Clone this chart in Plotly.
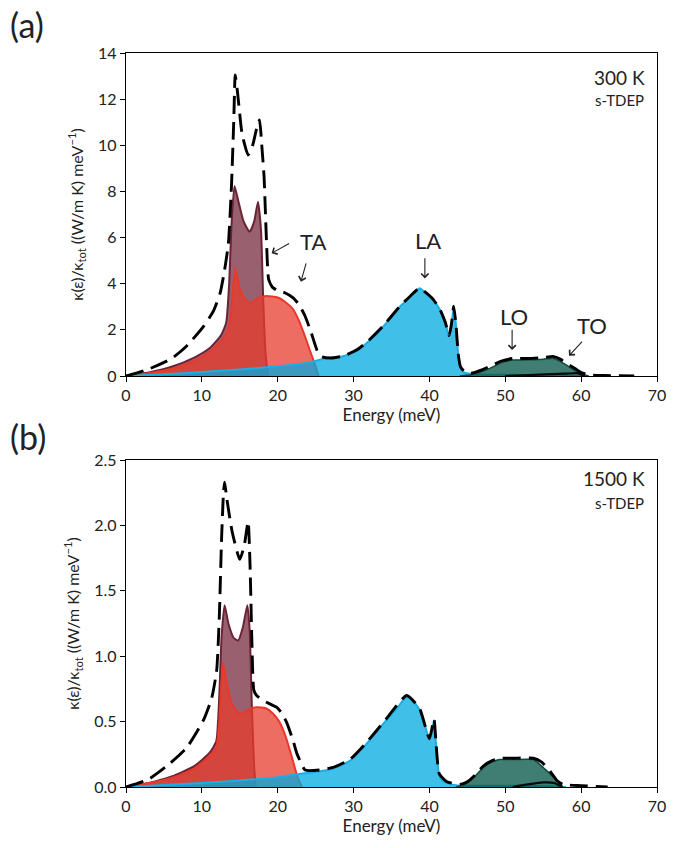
import plotly.graph_objects as go

# ---------------- Panel (a): 300 K ----------------
a_ta1_E = [0, 3, 6, 9, 11, 12.5, 13.2, 13.6, 13.9, 14.3, 14.8, 15.5, 16.3, 16.9, 17.4, 17.8, 18.1, 18.4, 18.7]
a_ta1_v = [0, 0.15, 0.4, 0.8, 1.2, 1.75, 2.3, 4.0, 6.5, 8.24, 7.6, 6.7, 6.25, 6.7, 7.55, 6.3, 3.2, 1.0, 0]

a_ta2_E = [0, 3, 6, 9, 11, 12.5, 13.3, 13.8, 14.1, 14.4, 14.9, 15.6, 16.4, 17.3, 18.5, 20.0, 21.2, 22.0, 22.8, 23.5, 24.2, 24.8, 25.4]
a_ta2_v = [0, 0.12, 0.3, 0.65, 1.05, 1.5, 1.9, 2.6, 3.8, 4.67, 3.9, 3.35, 3.15, 3.35, 3.47, 3.4, 3.15, 2.9, 2.4, 1.8, 1.15, 0.6, 0]

a_la_E = [0, 5, 10, 15, 20, 24, 26, 28.6, 30.5, 31.7, 33, 33.9, 35, 36.1, 37.5, 38.7, 39.5, 40.5, 41.4, 42.1, 42.6, 42.9, 43.2, 43.5, 43.8, 44.1, 44.6, 46, 50, 55, 58, 60]
a_la_v = [0, 0.08, 0.17, 0.28, 0.42, 0.58, 0.74, 0.86, 1.1, 1.42, 1.8, 2.14, 2.55, 3.0, 3.45, 3.8, 3.6, 3.3, 2.86, 2.3, 1.7, 2.2, 3.0, 2.2, 0.9, 0.35, 0.15, 0.08, 0.05, 0.04, 0.02, 0]

a_lo_E = [44, 45.5, 47, 48.5, 49.5, 51, 53, 55, 56.3, 57.3, 58.3, 59.3, 60, 61]
a_lo_v = [0, 0.05, 0.2, 0.42, 0.58, 0.69, 0.7, 0.73, 0.77, 0.62, 0.42, 0.22, 0.1, 0]

a_to_E = [50, 53, 56, 58, 59.5, 60.5]
a_to_v = [0, 0.04, 0.08, 0.1, 0.12, 0]

a_tot_E = [0, 3, 6, 8, 10.2, 11.5, 12.4, 13.0, 13.5, 13.9, 14.2, 14.4, 14.7, 15.3, 16.1, 16.7, 17.2, 17.6,
           17.9, 18.2, 18.5, 18.8, 19.3, 19.85, 21, 22, 22.8, 23.6, 24.4, 25.2, 25.8, 27, 28.6, 30.5, 31.7,
           33.9, 36.1, 37.5, 38.7, 39.5, 40.5, 41.4, 42.1, 42.6, 42.9, 43.2, 43.5, 43.8, 44.1, 44.6, 45.5,
           47, 48.5, 49.5, 51, 53, 55, 56.3, 57.3, 58.3, 59.3, 60, 61, 63, 67]
a_tot_v = [0, 0.3, 0.75, 1.3, 2.14, 2.8, 3.58, 4.6, 5.75, 8.2, 11.0, 13.05, 12.3, 10.5, 9.58, 10.0, 10.7, 11.1,
           10.0, 8.64, 6.0, 4.2, 3.85, 3.73, 3.6, 3.4, 3.1, 2.6, 1.9, 1.1, 0.84, 0.78, 0.86, 1.15, 1.45,
           2.17, 3.02, 3.47, 3.82, 3.62, 3.32, 2.88, 2.32, 1.75, 2.25, 3.02, 2.22, 0.95, 0.4, 0.2, 0.12,
           0.28, 0.5, 0.65, 0.76, 0.76, 0.8, 0.85, 0.72, 0.5, 0.3, 0.15, 0.05, 0.02, 0]

# ---------------- Panel (b): 1500 K ----------------
b_ta1_E = [0, 3, 6, 9, 11, 11.9, 12.3, 12.6, 13.0, 13.5, 14.2, 14.8, 15.4, 16.0, 16.3, 16.6, 16.9, 17.1]
b_ta1_v = [0, 0.03, 0.08, 0.16, 0.26, 0.35, 0.7, 1.15, 1.39, 1.25, 1.14, 1.12, 1.22, 1.39, 1.2, 0.6, 0.15, 0]

b_ta2_E = [0, 3, 6, 9, 11, 11.9, 12.3, 12.6, 12.8, 13.2, 13.8, 14.5, 15.2, 16.0, 17.2, 18.5, 19.4, 20.2, 20.7, 21.3, 22.0, 22.6, 23.2]
b_ta2_v = [0, 0.03, 0.07, 0.14, 0.24, 0.3, 0.5, 0.82, 0.95, 0.82, 0.66, 0.58, 0.56, 0.59, 0.61, 0.6, 0.56, 0.5, 0.44, 0.34, 0.2, 0.08, 0]

b_la_E = [0, 5, 10, 15, 20, 22.9, 25.6, 27.3, 29.5, 31.7, 33, 34.3, 35.7, 37.0, 37.8, 38.7, 39.5, 40.0, 40.3, 40.6, 40.9, 41.2, 41.5, 42.3, 44, 48, 52, 56, 58]
b_la_v = [0, 0.015, 0.03, 0.05, 0.075, 0.1, 0.12, 0.14, 0.2, 0.33, 0.42, 0.51, 0.6, 0.69, 0.66, 0.59, 0.45, 0.36, 0.42, 0.51, 0.3, 0.12, 0.06, 0.03, 0.01, 0.01, 0.01, 0.005, 0]

b_lo_E = [43.5, 45, 46, 47.1, 48.2, 49.2, 51, 53.7, 54.8, 55.9, 56.8, 57.6]
b_lo_v = [0, 0.03, 0.08, 0.15, 0.19, 0.21, 0.21, 0.21, 0.16, 0.1, 0.05, 0]

b_to_E = [51, 53, 55, 56.5, 57.5]
b_to_v = [0, 0.02, 0.035, 0.03, 0]

b_tot_E = [0, 3, 5.8, 8, 10.2, 11.3, 11.95, 12.3, 12.6, 12.85, 13.0, 13.3, 14.0, 15.0, 15.6, 16.1, 16.35, 16.6,
           16.85, 17.2, 18.1, 19.85, 20.6, 21.2, 22.0, 22.5, 23.1, 23.6, 25.5, 27.3, 29.5, 31.7, 34.3, 37.0,
           38.7, 40.0, 40.6, 40.9, 41.3, 42.3, 44, 45, 46, 47.1, 48.2, 49.2, 51, 53.7, 54.8, 55.9, 56.8,
           57.6, 60, 63.5]
b_tot_v = [0, 0.06, 0.18, 0.3, 0.51, 0.68, 0.89, 1.3, 1.9, 2.25, 2.33, 2.2, 1.95, 1.74, 1.85, 2.03, 1.7, 1.1,
           0.74, 0.7, 0.66, 0.61, 0.56, 0.49, 0.36, 0.26, 0.18, 0.13, 0.13, 0.15, 0.21, 0.34, 0.52, 0.7,
           0.6, 0.37, 0.52, 0.31, 0.1, 0.04, 0.02, 0.04, 0.09, 0.16, 0.2, 0.22, 0.22, 0.22, 0.19, 0.12, 0.05,
           0.02, 0.01, 0]

x_ticks = [0, 10, 20, 30, 40, 50, 60, 70]
a_yticks = [0, 2, 4, 6, 8, 10, 12, 14]
b_yticks = [0.0, 0.5, 1.0, 1.5, 2.0, 2.5]

FONT = "Lato"
TXT = "#222"

MAROON_FILL = "rgba(110,30,50,0.70)"
MAROON_LINE = "#6b2435"
RED_FILL = "rgba(232,60,45,0.75)"
RED_LINE = "#e8392a"
BLUE_FILL = "rgba(0,170,225,0.75)"
BLUE_LINE = "#1aaee4"
TEAL_FILL = "rgba(10,90,75,0.78)"
TEAL_LINE = "#0d4a40"

fig = go.Figure()

def add_panel(xa, ya, ta1, ta2, la, lo, to, tot):
    specs = [(ta1, MAROON_FILL, MAROON_LINE, 2),
             (ta2, RED_FILL, RED_LINE, 2),
             (la, BLUE_FILL, BLUE_LINE, 2),
             (lo, TEAL_FILL, TEAL_LINE, 1.5)]
    for (E, v), fc, lc, w in specs:
        fig.add_trace(go.Scatter(x=E, y=v, xaxis=xa, yaxis=ya, mode="lines", fill="tozeroy",
                                 fillcolor=fc, line=dict(color=lc, width=w, shape="spline", smoothing=0.5),
                                 showlegend=False, hoverinfo="skip"))
    fig.add_trace(go.Scatter(x=to[0], y=to[1], xaxis=xa, yaxis=ya, mode="lines",
                             line=dict(color="#0a0a0a", width=2.2, shape="spline", smoothing=0.5),
                             showlegend=False, hoverinfo="skip"))
    fig.add_trace(go.Scatter(x=tot[0], y=tot[1], xaxis=xa, yaxis=ya, mode="lines",
                             line=dict(color="black", width=2.9, dash="18px,8px", shape="spline", smoothing=0.5),
                             showlegend=False, hoverinfo="skip"))

add_panel("x", "y", (a_ta1_E, a_ta1_v), (a_ta2_E, a_ta2_v), (a_la_E, a_la_v),
          (a_lo_E, a_lo_v), (a_to_E, a_to_v), (a_tot_E, a_tot_v))
add_panel("x2", "y2", (b_ta1_E, b_ta1_v), (b_ta2_E, b_ta2_v), (b_la_E, b_la_v),
          (b_lo_E, b_lo_v), (b_to_E, b_to_v), (b_tot_E, b_tot_v))

axis_common = dict(showline=True, linecolor="black", linewidth=1.3, mirror=True,
                   ticks="outside", ticklen=5, tickwidth=1.2, tickcolor="black",
                   showgrid=False, zeroline=False,
                   tickfont=dict(family=FONT, size=16, color=TXT))

ytitle = "κ(ε)/κ<sub>tot</sub> ((W/m K) meV<sup>−1</sup>)"

fig.update_layout(
    width=684, height=848,
    margin=dict(l=126, r=27, t=53, b=61),
    paper_bgcolor="white", plot_bgcolor="white",
    font=dict(family=FONT, color=TXT),
    xaxis=dict(domain=[0, 1], anchor="y", range=[0, 70], tickvals=x_ticks,
               title=dict(text="Energy (meV)", font=dict(family=FONT, size=17), standoff=2), **axis_common),
    yaxis=dict(domain=[411/734, 1], anchor="x", range=[0, 14], tickvals=a_yticks,
               title=dict(text=ytitle, font=dict(family=FONT, size=16), standoff=10), **axis_common),
    xaxis2=dict(domain=[0, 1], anchor="y2", range=[0, 70], tickvals=x_ticks,
                title=dict(text="Energy (meV)", font=dict(family=FONT, size=17), standoff=2), **axis_common),
    yaxis2=dict(domain=[0, 327/734], anchor="x2", range=[0, 2.5], tickvals=b_yticks, tickformat=".1f",
                title=dict(text=ytitle, font=dict(family=FONT, size=16), standoff=10), **axis_common),
)

ann = []
# panel labels
ann.append(dict(text="(a)", xref="paper", yref="paper", x=(8-126)/531, y=(787-24)/734,
                xanchor="left", yanchor="middle", showarrow=False, font=dict(family=FONT, size=34, color=TXT)))
ann.append(dict(text="(b)", xref="paper", yref="paper", x=(8-126)/531, y=(787-437)/734,
                xanchor="left", yanchor="middle", showarrow=False, font=dict(family=FONT, size=34, color=TXT)))
# temperature / method labels
for xr, yr, y1, y2, t in [("x", "y", 14 - 24/23.07, 14 - 47/23.07, "300 K"),
                           ("x2", "y2", 2.5 - 18/130.8, 2.5 - 43/130.8, "1500 K")]:
    ann.append(dict(text=t, xref=xr, yref=yr, x=68.7, y=y1, xanchor="right", yanchor="middle",
                    showarrow=False, font=dict(family=FONT, size=19, color=TXT)))
    ann.append(dict(text="s-TDEP", xref=xr, yref=yr, x=68.5, y=y2, xanchor="right", yanchor="middle",
                    showarrow=False, font=dict(family=FONT, size=15, color=TXT)))
# branch labels in panel (a)
for t, x, y in [("TA", 24.6, 5.83), ("LA", 39.8, 5.86), ("LO", 51.2, 2.6), ("TO", 61.4, 2.21)]:
    ann.append(dict(text=t, xref="x", yref="y", x=x, y=y, showarrow=False,
                    font=dict(family=FONT, size=22, color=TXT)))
for hx, hy, tx, ty in [(19.2, 5.32, 21.7, 5.78), (23.06, 4.09, 23.8, 4.95),
                       (39.4, 4.23, 39.4, 5.17), (50.9, 1.13, 50.9, 2.07), (58.4, 0.88, 60.3, 1.56)]:
    ann.append(dict(text="", xref="x", yref="y", axref="x", ayref="y", x=hx, y=hy, ax=tx, ay=ty,
                    showarrow=True, arrowhead=4, arrowsize=1.3, arrowwidth=1.1, arrowcolor=TXT))
fig.update_layout(annotations=ann)

fig.write_html("out.html")
